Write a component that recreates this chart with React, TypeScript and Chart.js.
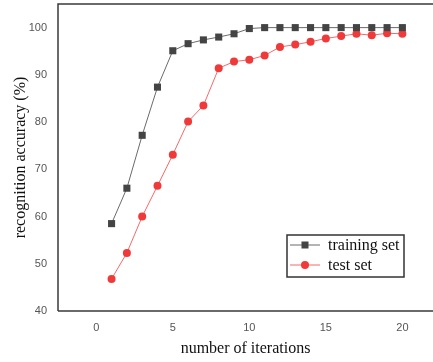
import React, { useEffect, useRef } from "react";
import { Chart, registerables } from "chart.js";

Chart.register(...registerables);

const iterations = [1, 2, 3, 4, 5, 6, 7, 8, 9, 10, 11, 12, 13, 14, 15, 16, 17, 18, 19, 20];
const trainingSet = [58.5, 66.0, 77.2, 87.4, 95.1, 96.6, 97.4, 98.0, 98.7, 99.8, 100, 100, 100, 100, 100, 100, 100, 100, 100, 100];
const testSet = [46.8, 52.3, 60.0, 66.5, 73.1, 80.1, 83.5, 91.4, 92.8, 93.2, 94.1, 95.9, 96.4, 97.0, 97.7, 98.2, 98.7, 98.4, 98.8, 98.7];
const xTicks = [0, 5, 10, 15, 20];
const yTicks = [40, 50, 60, 70, 80, 90, 100];
const seriesNames = ["training set", "test set"];

const frameAndLegend = {
  id: "frameAndLegend",
  afterDatasetsDraw(chart: any) {
    const { ctx, chartArea } = chart;
    const { left, top, right, bottom } = chartArea;
    ctx.save();
    ctx.strokeStyle = "#3a3a3a";
    ctx.lineWidth = 1.5;
    ctx.beginPath();
    ctx.moveTo(left, bottom);
    ctx.lineTo(left, top);
    ctx.lineTo(right, top);
    ctx.moveTo(left, bottom);
    ctx.lineTo(right, bottom);
    ctx.stroke();

    // legend box
    const bx = 287, by = 235, bw = 117, bh = 42;
    ctx.fillStyle = "#ffffff";
    ctx.fillRect(bx, by, bw, bh);
    ctx.strokeStyle = "#333333";
    ctx.lineWidth = 1.5;
    ctx.strokeRect(bx, by, bw, bh);
    const rows = [245, 265];
    chart.data.datasets.forEach((ds: any, i: number) => {
      const y = rows[i];
      ctx.strokeStyle = ds.borderColor;
      ctx.lineWidth = 1;
      ctx.beginPath();
      ctx.moveTo(290, y);
      ctx.lineTo(320, y);
      ctx.stroke();
      ctx.fillStyle = ds.pointBackgroundColor;
      ctx.beginPath();
      if (ds.pointStyle === "rect") {
        ctx.fillRect(305 - 3.5, y - 3.5, 7, 7);
      } else {
        ctx.arc(305, y, 4, 0, Math.PI * 2);
        ctx.fill();
      }
      ctx.fillStyle = "#111111";
      ctx.font = "16px 'Liberation Serif'";
      ctx.textBaseline = "middle";
      ctx.textAlign = "left";
      ctx.fillText(ds.label, 328, y + 1);
    });
    ctx.restore();
  },
};

export default function App() {
  const ref = useRef<HTMLCanvasElement>(null);
  useEffect(() => {
    document.body.style.margin = "0";
    const chart = new Chart(ref.current!, {
      type: "line",
      data: {
        datasets: [
          {
            label: seriesNames[0],
            data: iterations.map((x, i) => ({ x, y: trainingSet[i] })),
            borderColor: "#6a6a6a",
            borderWidth: 1,
            pointStyle: "rect",
            pointRadius: 5,
            pointBackgroundColor: "#444444",
            pointBorderColor: "#444444",
            pointBorderWidth: 0,
          },
          {
            label: seriesNames[1],
            data: iterations.map((x, i) => ({ x, y: testSet[i] })),
            borderColor: "#f26a6a",
            borderWidth: 1,
            pointStyle: "circle",
            pointRadius: 4,
            pointBackgroundColor: "#f03a3a",
            pointBorderColor: "#f03a3a",
            pointBorderWidth: 0,
          },
        ],
      },
      options: {
        animation: false,
        responsive: false,
        layout: { autoPadding: false, padding: { top: 4, right: 0, left: 0, bottom: 0 } },
        plugins: { legend: { display: false }, tooltip: { enabled: false } },
        scales: {
          x: {
            type: "linear",
            min: -2.5,
            max: 22,
            afterBuildTicks: (axis: any) => {
              axis.ticks = xTicks.map((v) => ({ value: v }));
            },
            afterFit: (axis: any) => {
              axis.height = 51;
              axis.paddingLeft = 0;
              axis.paddingRight = 0;
            },
            grid: { display: false, drawTicks: false },
            border: { display: false },
            ticks: {
              color: "#555555",
              font: { family: "'Liberation Sans'", size: 11 },
              padding: 10,
              maxRotation: 0,
            },
            title: {
              display: true,
              text: "number of iterations",
              color: "#111111",
              font: { family: "'Liberation Serif'", size: 16 },
              padding: { top: 0, bottom: 3.4 },
            },
          },
          y: {
            type: "linear",
            min: 40,
            max: 105,
            afterBuildTicks: (axis: any) => {
              axis.ticks = yTicks.map((v) => ({ value: v }));
            },
            afterFit: (axis: any) => {
              axis.width = 58;
              axis.paddingTop = 0;
              axis.paddingBottom = 0;
            },
            grid: { display: false, drawTicks: false },
            border: { display: false },
            ticks: {
              color: "#555555",
              font: { family: "'Liberation Sans'", size: 11 },
              padding: 11,
            },
            title: {
              display: true,
              text: "recognition accuracy (%)",
              color: "#111111",
              font: { family: "'Liberation Serif'", size: 16 },
              padding: { top: 11, bottom: 0 },
            },
          },
        },
      },
      plugins: [frameAndLegend],
    });
    return () => chart.destroy();
  }, []);
  return <canvas ref={ref} width={433} height={362} style={{ display: "block" }} />;
}
